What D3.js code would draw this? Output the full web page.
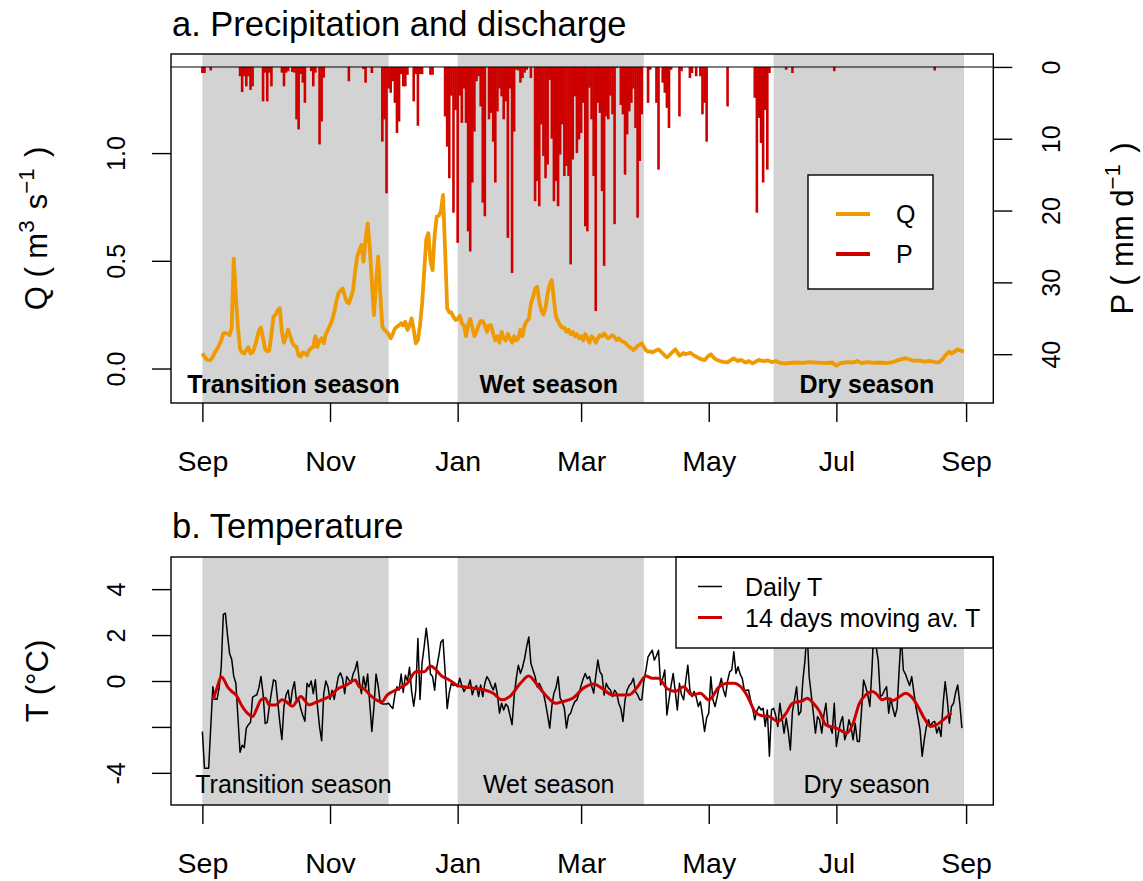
<!DOCTYPE html>
<html>
<head>
<meta charset="utf-8">
<script src="https://cdn.jsdelivr.net/npm/d3@7"></script>
<style>
  body { margin: 0; background: #fff; }
  text { font-family: "Liberation Sans", Arial, Helvetica, sans-serif; fill: #000; }
</style>
</head>
<body>
<svg id="chart" width="1143" height="881"></svg>
<script>
// ---- hydrological year, one value per day starting on firstDay ----
const firstDay = "2013-09-01";

const monthTickDates = ["2013-09-01","2013-11-01","2014-01-01","2014-03-01","2014-05-01","2014-07-01","2014-09-01"];
const monthTickLabels = ["Sep","Nov","Jan","Mar","May","Jul","Sep"];

const seasonNames = ["Transition season","Wet season","Dry season"];
const seasonStarts = ["2013-09-01","2014-01-01","2014-06-01"];
const seasonEnds = ["2013-11-29","2014-03-31","2014-08-31"];

// discharge Q (m3/s): daily values for days 0-279, then the flat dry-season stretch
const qDaily = [
  .071,.055,.042,.039,.04,.055,.075,.09,.108,.13,
  .163,.165,.162,.155,.19,.51,.33,.19,.09,.075,
  .07,.085,.1,.07,.075,.1,.135,.175,.19,.14,
  .09,.08,.085,.16,.24,.25,.27,.28,.17,.12,
  .15,.18,.15,.12,.105,.1,.06,.055,.075,.07,
  .062,.085,.095,.1,.15,.1,.13,.14,.117,.16,
  .18,.2,.225,.26,.31,.349,.36,.372,.34,.31,
  .303,.33,.364,.45,.519,.55,.573,.496,.6,.674,
  .565,.4,.248,.4,.519,.35,.194,.18,.171,.16,
  .14,.16,.185,.194,.2,.21,.2,.217,.179,.2,
  .233,.18,.117,.132,.2,.3,.45,.6,.628,.5,
  .457,.62,.705,.71,.73,.806,.55,.28,.26,.26,
  .24,.225,.23,.245,.21,.2,.15,.2,.23,.19,
  .15,.17,.2,.22,.22,.2,.17,.2,.2,.16,
  .13,.15,.12,.17,.14,.13,.16,.14,.12,.15,
  .13,.14,.18,.15,.2,.22,.23,.3,.33,.37,
  .38,.31,.27,.25,.28,.35,.39,.41,.32,.24,
  .22,.2,.19,.19,.17,.18,.16,.17,.15,.16,
  .14,.15,.13,.16,.14,.12,.15,.14,.12,.14,
  .155,.15,.163,.15,.14,.148,.155,.145,.132,.14,
  .13,.125,.12,.11,.101,.095,.086,.095,.105,.11,
  .117,.1,.085,.078,.08,.075,.08,.085,.089,.08,
  .07,.06,.052,.06,.07,.08,.089,.075,.06,.065,
  .072,.066,.07,.073,.068,.06,.055,.05,.045,.042,
  .039,.05,.06,.066,.055,.045,.04,.036,.033,.031,
  .03,.029,.035,.042,.047,.04,.035,.04,.038,.03,
  .028,.035,.03,.024,.03,.035,.04,.037,.034,.036,
  .038,.035,.03,.032,.035,.03,.027,.025,.024,.024
];
const qLateDays = [283,287,290,294,298,301,303,305,308,311,313,315,318,321,324,327,330,333,336,338,340,342,345,348,350,352,354,355,356,357,358,359,361,362,364];
const qLateVals = [.028,.026,.03,.027,.025,.028,.013,.025,.03,.028,.035,.025,.03,.026,.028,.025,.03,.04,.047,.042,.035,.038,.032,.035,.03,.029,.045,.06,.07,.078,.07,.075,.089,.085,.078];

// precipitation P (mm/d) on rain days
const pDays = [0,1,4,18,19,20,21,22,23,24,29,30,31,32,33,38,39,40,41,43,44,45,46,47,48,49,52,53,54,56,57,58,70,77,78,81,
  86,87,88,89,90,91,92,93,94,95,96,97,98,101,102,103,104,105,109,110,
  116,117,118,119,120,121,122,123,124,125,126,127,128,129,130,131,132,133,134,135,137,138,139,140,141,142,143,144,145,146,147,148,149,
  150,151,152,153,154,155,157,159,160,161,162,163,164,165,166,167,168,169,170,171,172,173,174,175,176,177,178,179,180,181,182,183,184,
  185,186,187,188,189,190,191,192,193,194,195,196,197,198,200,201,202,203,204,205,206,207,208,209,210,213,214,217,218,220,221,222,223,
  224,228,229,233,234,236,238,239,240,241,251,264,265,266,267,268,269,270,271,279,282,302,350];
const pVals = [.85,.85,.5,1.3,3.5,1.3,2.7,1.3,3.2,2.7,4.8,.8,4.8,.8,2.7,.8,2.7,.8,.6,.7,.8,7.3,8.7,1.0,2.2,5.0,.6,2.7,.8,10.8,7.6,1.5,2.0,.3,2.2,.85,
  10.4,7.3,17.6,3.0,3.6,2.0,5.0,9.2,7.6,1.0,2.7,2.7,1.1,4.8,1.0,8.2,1.0,1.0,1.1,1.1,
  6.9,11.1,15.5,4.0,20.3,6.0,24.5,4.0,7.8,3.0,7.8,22.9,25.7,16.1,9.0,2.0,1.3,5.5,18.9,20.8,7.3,6.4,10.4,16.1,6.2,3.0,4.1,7.3,4.8,23.8,3.0,28.7,9.0,
  .4,.5,2.2,1.55,.8,.4,1.55,18.7,15.9,19.4,8.0,12.4,15.5,13.6,1.8,10.0,18.7,15.9,19.4,12.2,8.0,15.2,13.8,15.2,27.5,12.9,4.1,12.0,10.1,9.2,5.0,22.2,22.9,
  2.9,7.3,15.2,34.0,5.0,6.4,17.3,27.7,6.9,7.3,4.0,6.6,21.9,.15,5.3,6.6,15.0,9.4,6.2,5.0,3.0,8.5,21.0,13.1,6.6,5.0,.4,5.0,14.3,2.2,3.6,5.7,8.5,
  .4,6.9,.6,1.55,.85,1.3,1.3,6.6,5.0,10.4,5.5,4.3,20.3,7.1,10.6,16.1,6.0,14.3,.85,.4,.85,.6,.5];

// daily air temperature (°C), days 0-363
const tDaily = [
  -2.2,-3.8,-3.8,-3.8,-2.0,-0.25,-0.8,-0.8,-0.3,0.6,
  2.9,2.95,2.0,1.2,0.95,0.2,-0.1,-1.6,-3.1,-2.8,
  -2.9,-2.05,-1.9,-1.8,-0.7,-0.65,-0.6,-0.3,0.2,-0.55,
  -1.85,-1.8,-1.1,-0.5,0.05,0.0,-0.9,-1.8,-2.55,-1.1,
  -0.6,-0.4,-1.1,-0.4,-0.03,-0.9,-0.8,-1.2,-1.5,-1.75,
  -0.1,-0.25,0.0,-0.55,0.05,-1.1,-2.0,-2.6,-0.55,0.0,
  -0.25,-0.8,-0.4,-0.8,-0.3,0.2,0.35,0.1,-0.55,0.2,
  0.05,-0.1,0.3,0.5,0.85,0.0,-0.55,0.2,-0.3,0.3,
  -1.0,-2.2,-1.1,0.3,-0.2,-0.95,-1.0,-1.0,-1.0,-0.97,
  -1.1,-1.2,-0.6,-0.25,-0.4,0.3,-0.5,0.25,0.0,0.6,
  -0.45,-1.1,-0.4,1.85,-0.8,0.8,1.5,2.3,1.5,0.3,
  0.2,-0.4,0.6,1.1,1.7,1.8,0.4,-1.2,-0.5,-0.1,
  -0.2,-0.17,-0.25,0.12,-0.2,-0.46,-0.3,-0.25,0.04,-0.6,
  -0.32,-0.2,-0.68,-0.17,-0.68,-0.1,0.19,0.04,-0.2,-0.39,
  -0.1,-0.6,-1.4,-0.97,-1.26,-1.0,-1.11,-1.5,-1.9,-0.68,
  0.1,0.69,0.33,0.6,0.98,1.5,1.92,0.77,0.48,0.2,
  -0.25,-0.1,-0.3,-0.53,-0.97,-1.5,-2.05,-1.11,-0.53,-0.3,
  0.19,-0.75,-0.9,-1.2,-2.05,-1.5,-1.4,-1.11,-0.9,-0.82,
  -0.53,-0.2,0.1,0.33,0.1,0.19,-0.2,-0.53,0.2,0.91,
  0.4,0.26,-0.61,-0.1,-0.3,-0.39,-0.68,-0.4,-0.53,-0.97,
  -1.2,-1.76,-0.82,-0.39,-0.2,-0.1,0.12,-0.46,-0.6,-0.82,
  -0.82,0.0,0.48,1.05,1.2,1.34,0.91,1.1,1.34,-0.17,
  0.1,0.48,-1.48,-0.82,-0.2,0.33,-0.46,-1.26,-0.1,-0.6,
  -0.82,0.0,0.69,-0.39,-0.68,-0.46,-0.7,-1.11,-0.9,-1.5,
  -2.2,-1.6,-1.4,0.19,-0.82,-1.11,-0.7,-0.25,0.12,-0.39,
  -0.68,0.0,0.4,0.48,1.27,0.33,0.62,0.3,0.12,-0.39,
  -0.4,-0.39,-0.82,-1.2,-1.69,-1.3,-1.11,-1.26,-1.19,-1.98,
  -1.26,-3.28,-1.26,-1.19,-1.5,-1.98,-0.97,-1.6,-2.27,-1.62,
  -2.2,-3.0,-1.33,-0.8,-0.25,-1.48,-1.33,0.04,0.91,2.2,
  0.19,-0.6,-1.4,-2.27,-1.55,-1.69,-2.27,-1.5,-0.97,-1.98,
  -1.98,-2.27,-0.97,-2.85,-2.27,-1.8,-1.55,-2.56,-2.27,-1.69,
  -2.0,-2.56,-1.84,-2.63,-2.63,-1.3,0.04,-0.25,-0.6,-1.11,
  0.5,2.5,1.5,0.91,-0.68,-0.61,-0.4,-0.25,-1.4,-0.75,
  -1.2,-1.55,-1.19,0.48,2.0,0.48,0.3,0.04,-0.2,0.19,
  -0.46,-1.11,-1.6,-2.13,-3.28,-2.56,-2.0,-1.69,-1.98,-1.8,
  -1.76,-2.27,-2.0,-2.42,-1.0,-0.03,-0.82,-1.84,-1.11,-0.97,
  -0.5,-0.17,-1.0,-2.05
];

// 14-day moving average of T (centred)
const maDays = [5,7,9,10,12,14,16,19,21,24,26,28,30,32,35,38,40,43,47,51,55,59,62,64,69,73,75,77,80,83,
  86,88,91,94,98,102,106,109,111,114,118,122,125,130,135,139,143,147,152,156,160,164,169,172,177,182,187,191,196,200,
  204,208,212,215,218,222,226,230,234,238,242,247,251,254,258,261,264,267,271,275,279,282,287,289,292,295,298,303,308,311,
  314,317,320,322,325,327,330,333,336,339,342,345,348,351,355,358];
const maVals = [-0.82,-0.3,0.19,0.1,-0.25,-0.45,-0.6,-1.1,-1.35,-1.55,-1.2,-0.82,-0.75,-1.04,-1.04,-0.82,-0.9,-1.1,-0.67,-1.04,
  -0.9,-0.75,-0.6,-0.39,-0.17,0.04,-0.25,-0.32,-0.6,-0.82,-0.9,-0.64,-0.46,-0.32,-0.1,0.4,0.4,0.65,0.55,0.25,
  0.04,-0.2,-0.25,-0.32,-0.39,-0.53,-0.82,-0.67,-0.1,0.22,-0.17,-0.61,-0.97,-0.9,-0.75,-0.32,-0.13,-0.32,-0.61,-0.61,
  -0.6,-0.25,0.22,0.12,0.12,-0.32,-0.46,-0.25,-0.61,-0.53,-0.82,-0.25,-0.1,-0.1,-0.32,-0.75,-1.33,-1.5,-1.55,-1.76,
  -1.4,-0.97,-0.85,-0.75,-0.97,-1.33,-1.91,-2.05,-2.27,-1.84,-0.97,-0.61,-0.46,-0.55,-0.82,-0.75,-0.85,-0.7,-0.53,-0.7,
  -1.11,-1.62,-1.98,-1.9,-1.62,-1.4];

// ---------------------------------------------------------------
const ORANGE = "#EE9A00", RED = "#CD0000", SHADE = "#D3D3D3";
const svg = d3.select("#chart");
svg.append("rect").attr("width", 1143).attr("height", 881).attr("fill", "#fff");

const parseDay = d3.utcParse("%Y-%m-%d");
const start = parseDay(firstDay);
const dayDate = n => d3.utcDay.offset(start, n);

const L = 171, R = 993.3;
const A = { top: 54, bottom: 403 };   // panel a
const B = { top: 557, bottom: 805 };  // panel b

const x = d3.scaleUtc().domain([dayDate(-15), dayDate(378)]).range([L, R]);
const yQ = d3.scaleLinear().domain([-0.16, 1.46]).range([A.bottom, A.top]);
const yP = d3.scaleLinear().domain([-1.8, 46.8]).range([A.top, A.bottom]);
const yT = d3.scaleLinear().domain([-5.4, 5.4]).range([B.bottom, B.top]);

const seasons = seasonNames.map((name, i) => ({ name, start: parseDay(seasonStarts[i]), end: parseDay(seasonEnds[i]) }));

const qSeries = qDaily.map((v, i) => ({ d: i, v }))
  .concat(qLateDays.map((d, i) => ({ d, v: qLateVals[i] })));
const pSeries = pDays.map((d, i) => ({ d, v: pVals[i] }));
const tSeries = tDaily.map((v, i) => ({ d: i, v }));
const maSeries = maDays.map((d, i) => ({ d, v: maVals[i] }));

function shadeSeasons(panel) {
  svg.append("g").selectAll("rect").data(seasons).join("rect")
    .attr("x", s => x(s.start)).attr("width", s => x(s.end) - x(s.start))
    .attr("y", panel.top).attr("height", panel.bottom - panel.top)
    .attr("fill", SHADE);
}

function frame(panel) {
  svg.append("rect").attr("x", L).attr("y", panel.top)
    .attr("width", R - L).attr("height", panel.bottom - panel.top)
    .attr("fill", "none").attr("stroke", "#000").attr("stroke-width", 1.4);
}

function styleAxis(g) {
  g.select(".domain").remove();
  g.selectAll(".tick line").attr("stroke", "#000").attr("stroke-width", 1.4);
}

function timeAxis(panel) {
  const g = svg.append("g").attr("transform", `translate(0,${panel.bottom})`)
    .call(d3.axisBottom(x).tickValues(monthTickDates.map(parseDay))
      .tickFormat((d, i) => monthTickLabels[i]).tickSize(19));
  styleAxis(g);
  g.selectAll(".tick text").attr("y", 67.5).attr("dy", null)
    .attr("font-size", 28.5).attr("fill", "#000");
}

function verticalLabels(g, offset) {
  g.selectAll(".tick text").attr("x", null).attr("dy", null)
    .attr("text-anchor", "middle")
    .attr("transform", `translate(${offset},0) rotate(-90)`)
    .attr("font-size", 25).attr("fill", "#000");
}

function axisTitle(cx, cy, parts, size) {
  const t = svg.append("text").attr("transform", `translate(${cx},${cy}) rotate(-90)`)
    .attr("text-anchor", "middle").attr("font-size", size);
  parts.forEach(p => {
    if (p.sup) {
      t.append("tspan").attr("dy", -13).attr("font-size", size * 0.72).text(p.s);
      t.append("tspan").attr("dy", 13).text("\u200A");
    } else {
      t.append("tspan").text(p.s);
    }
  });
}

// ================= panel a: precipitation and discharge =================
shadeSeasons(A);

// rain bars hanging from the top
svg.append("g").selectAll("line").data(pSeries).join("line")
  .attr("x1", d => x(dayDate(d.d))).attr("x2", d => x(dayDate(d.d)))
  .attr("y1", yP(0)).attr("y2", d => yP(d.v))
  .attr("stroke", RED).attr("stroke-width", 2.6);

// discharge
svg.append("path").datum(qSeries)
  .attr("d", d3.line().x(d => x(dayDate(d.d))).y(d => yQ(d.v)))
  .attr("fill", "none").attr("stroke", ORANGE).attr("stroke-width", 3.8)
  .attr("stroke-linejoin", "round");

// P = 0 reference line
svg.append("line").attr("x1", L).attr("x2", R).attr("y1", yP(0)).attr("y2", yP(0))
  .attr("stroke", "#000").attr("stroke-width", 1.1);

frame(A);

svg.append("g").selectAll("text").data(seasons).join("text")
  .attr("x", s => (x(s.start) + x(s.end)) / 2 - 2).attr("y", 393)
  .attr("text-anchor", "middle").attr("font-size", 25).attr("font-weight", "bold")
  .text(s => s.name);

timeAxis(A);

const gQ = svg.append("g").attr("transform", `translate(${L},0)`)
  .call(d3.axisLeft(yQ).tickValues([0, 0.5, 1]).tickFormat(d3.format(".1f")).tickSize(19));
styleAxis(gQ);
verticalLabels(gQ, -46);

const gP = svg.append("g").attr("transform", `translate(${R},0)`)
  .call(d3.axisRight(yP).tickValues([0, 10, 20, 30, 40]).tickSize(19));
styleAxis(gP);
verticalLabels(gP, 67);

axisTitle(47, (A.top + A.bottom) / 2, [{ s: "Q ( m" }, { s: "3", sup: true }, { s: " s" }, { s: "\u22121", sup: true }, { s: " )" }], 31);
axisTitle(1133, (A.top + A.bottom) / 2, [{ s: "P ( mm d" }, { s: "\u22121", sup: true }, { s: " )" }], 31);

svg.append("text").attr("x", 172).attr("y", 35.5).attr("font-size", 34.5)
  .text("a. Precipitation and discharge");

// legend a
const legA = svg.append("g");
legA.append("rect").attr("x", 808).attr("y", 175).attr("width", 125).attr("height", 114)
  .attr("fill", "#fff").attr("stroke", "#000").attr("stroke-width", 1.4);
[{ lab: "Q", col: ORANGE, y: 214 }, { lab: "P", col: RED, y: 254 }].forEach(e => {
  legA.append("line").attr("x1", 836).attr("x2", 870).attr("y1", e.y).attr("y2", e.y)
    .attr("stroke", e.col).attr("stroke-width", 3.8);
  legA.append("text").attr("x", 896).attr("y", e.y).attr("dy", "0.36em")
    .attr("font-size", 25).text(e.lab);
});

// ================= panel b: temperature =================
shadeSeasons(B);

svg.append("path").datum(tSeries)
  .attr("d", d3.line().x(d => x(dayDate(d.d))).y(d => yT(d.v)))
  .attr("fill", "none").attr("stroke", "#000").attr("stroke-width", 1.5)
  .attr("stroke-linejoin", "round");

svg.append("path").datum(maSeries)
  .attr("d", d3.line().curve(d3.curveMonotoneX).x(d => x(dayDate(d.d))).y(d => yT(d.v)))
  .attr("fill", "none").attr("stroke", RED).attr("stroke-width", 3)
  .attr("stroke-linejoin", "round");

svg.append("g").selectAll("text").data(seasons).join("text")
  .attr("x", s => (x(s.start) + x(s.end)) / 2 - 2).attr("y", 793)
  .attr("text-anchor", "middle").attr("font-size", 25)
  .text(s => s.name);

// legend b
const legB = svg.append("g");
legB.append("rect").attr("x", 676).attr("y", B.top).attr("width", R - 676).attr("height", 91)
  .attr("fill", "#fff").attr("stroke", "#000").attr("stroke-width", 1.4);
[{ lab: "Daily T", col: "#000", w: 1.5, y: 586.5 }, { lab: "14 days moving av. T", col: RED, w: 3, y: 617.5 }].forEach(e => {
  legB.append("line").attr("x1", 698).attr("x2", 722).attr("y1", e.y).attr("y2", e.y)
    .attr("stroke", e.col).attr("stroke-width", e.w);
  legB.append("text").attr("x", 745).attr("y", e.y).attr("dy", "0.36em")
    .attr("font-size", 25).text(e.lab);
});

frame(B);
timeAxis(B);

const gT = svg.append("g").attr("transform", `translate(${L},0)`)
  .call(d3.axisLeft(yT).tickValues([-4, -2, 0, 2, 4]).tickFormat(d => d === -2 ? "" : String(d)).tickSize(19));
styleAxis(gT);
verticalLabels(gT, -46);

axisTitle(48, (B.top + B.bottom) / 2, [{ s: "T (\u00B0C)" }], 31);

svg.append("text").attr("x", 172).attr("y", 538).attr("font-size", 34.5)
  .text("b. Temperature");
</script>
</body>
</html>
